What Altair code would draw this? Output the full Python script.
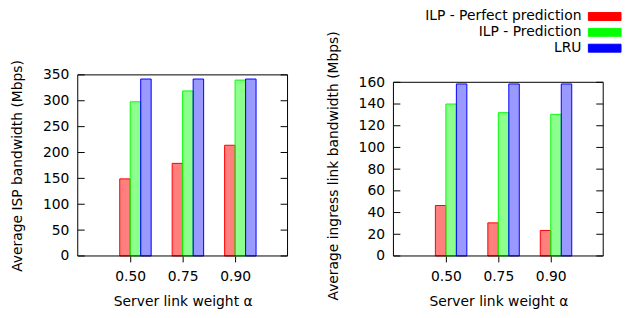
import altair as alt
import pandas as pd

# ---- data ----
alphas = ["0.50", "0.75", "0.90"]
series = ["ILP - Perfect prediction", "ILP - Prediction", "LRU"]

isp_perfect = [149, 179, 214]
isp_prediction = [298, 319, 340]
isp_lru = [342, 342, 342]

ingress_perfect = [46.5, 30.5, 23.5]
ingress_prediction = [140, 132, 130.5]
ingress_lru = [158.5, 158.5, 158.5]

isp_ticks = [0, 50, 100, 150, 200, 250, 300, 350]
ingress_ticks = [0, 20, 40, 60, 80, 100, 120, 140, 160]

colors = ["#ff0000", "#00ff00", "#0000ff"]
fill_opacity = [0.5, 0.4, 0.78]

FONT = "DejaVu Sans"
W = 212
H = 183


def make_df(lists):
    rows = []
    for s, vals in enumerate(lists):
        for g, v in enumerate(vals):
            rows.append({"g": g, "s": s, "series": series[s], "alpha": alphas[g], "value": v})
    return pd.DataFrame(rows)


label_expr = "['" + "','".join(alphas) + "'][datum.value]"


def panel(lists, ticks, frame_top, dom_top, ytitle, ytp):
    df = make_df(lists)
    xscale = alt.Scale(domain=[-1, 3], nice=False, zero=False)
    yscale = alt.Scale(domain=[0, dom_top], nice=False)
    xaxis = alt.Axis(values=[0, 1, 2], labelExpr=label_expr, title="Server link weight α",
                     grid=False, domain=False, ticks=True, tickSize=6, tickColor="black",
                     labelPadding=8, titlePadding=11)
    yaxis = alt.Axis(values=ticks, title=ytitle, grid=False, domain=False, ticks=False,
                     labelOverlap=False, labelPadding=9, titlePadding=ytp)
    bars = alt.Chart(df).transform_calculate(
        x0="datum.g + 0.2 * datum.s - 0.2",
        x1="datum.g + 0.2 * datum.s",
    ).mark_bar(strokeWidth=1).encode(
        x=alt.X("x0:Q", scale=xscale, axis=xaxis),
        x2="x1:Q",
        y=alt.Y("value:Q", scale=yscale, axis=yaxis),
        y2=alt.Y2(datum=0),
        fill=alt.Fill("series:N", scale=alt.Scale(domain=series, range=colors), legend=alt.Legend(title=None)),
        stroke=alt.Stroke("series:N", scale=alt.Scale(domain=series, range=colors), legend=alt.Legend(title=None)),
        fillOpacity=alt.FillOpacity("series:N", scale=alt.Scale(domain=series, range=fill_opacity),
                                    legend=alt.Legend(title=None)),
    )
    one = pd.DataFrame({"k": [0]})
    frame = alt.Chart(one).mark_rect(filled=False, stroke="black", strokeWidth=1).encode(
        x=alt.X(datum=-1, scale=xscale, axis=xaxis), x2=alt.X2(datum=3),
        y=alt.Y(datum=0, scale=yscale, axis=yaxis), y2=alt.Y2(datum=frame_top),
    )
    tdf = pd.DataFrame({"t": ticks})
    lt = alt.Chart(tdf).mark_rule(color="black", strokeWidth=1).encode(
        y=alt.Y("t:Q", scale=yscale, axis=yaxis), x=alt.value(0), x2=alt.value(7))
    rt = alt.Chart(tdf).mark_rule(color="black", strokeWidth=1).encode(
        y=alt.Y("t:Q", scale=yscale, axis=yaxis), x=alt.value(W - 7), x2=alt.value(W))
    return alt.layer(bars, lt, rt, frame).properties(width=W, height=H)


left = panel([isp_perfect, isp_prediction, isp_lru], isp_ticks, 350, 350,
             "Average ISP bandwidth (Mbps)", 18.5)
right = panel([ingress_perfect, ingress_prediction, ingress_lru], ingress_ticks, 160,
              160 * 183 / 175.5, "Average ingress link bandwidth (Mbps)", 18)

chart = alt.hconcat(left, right, spacing=38).resolve_scale(
    fill="shared", stroke="shared", fillOpacity="shared"
).properties(
    padding={"left": 1.5, "top": 0, "right": 0, "bottom": 0}
).configure_view(strokeWidth=0).configure_axis(
    labelFont=FONT, labelFontSize=14, labelColor="black",
    titleFont=FONT, titleFontSize=14, titleFontWeight="normal", titleColor="black",
).configure_legend(
    orient="none", legendX=493, legendY=-66,
    labelFont=FONT, labelFontSize=14, labelColor="black", labelAlign="right",
    labelOffset=2, labelLimit=400,
    symbolType="M4,-1H12.25V1H4Z", symbolSize=64, symbolStrokeWidth=1,
    rowPadding=2,
)

chart.save("out.html", embed_options={"renderer": "svg", "actions": False})
